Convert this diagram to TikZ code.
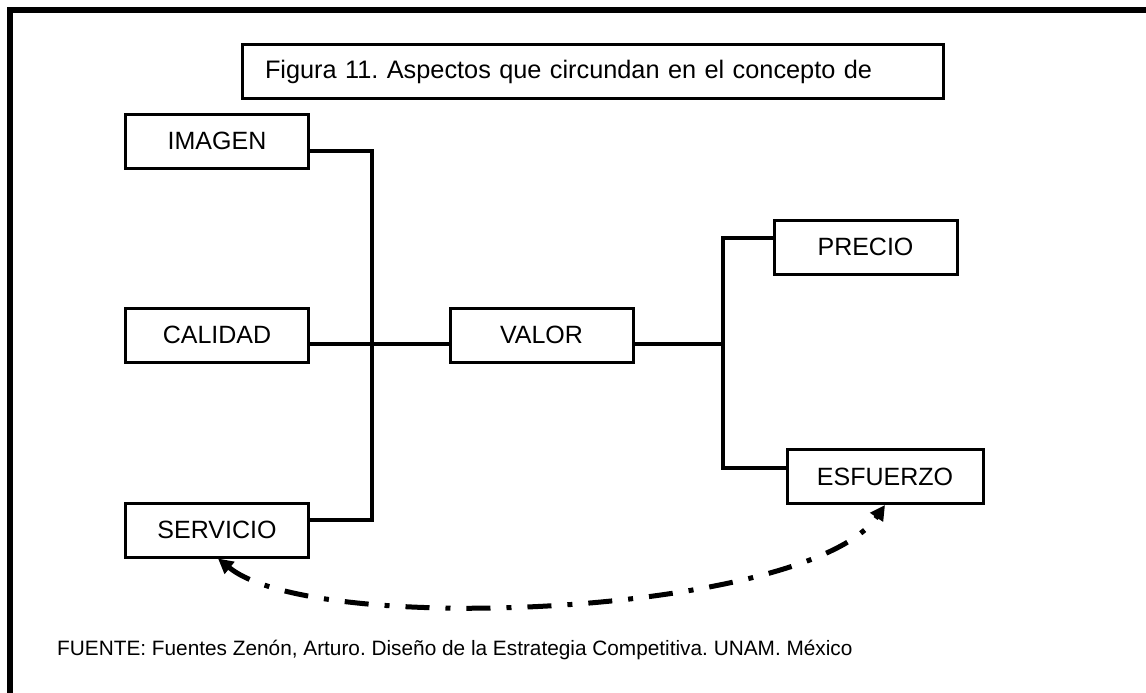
\documentclass[tikz,border=0pt]{standalone}
\usepackage{fontspec}
\setmainfont{Liberation Sans}
\usetikzlibrary{arrows.meta}
\tikzset{
  caja/.style = {draw = black, line width = 3pt, minimum width = 183pt, minimum height = 54pt, inner sep = 0pt, font = \fontsize{25}{30}\selectfont},
  enlace/.style = {line width = 4.5pt},
  flecha/.style = {line width = 5pt, dash pattern = on 24pt off 16pt on 5pt off 16pt, {Triangle[length=15pt,width=15pt]}-{Triangle[length=15pt,width=15pt]}}
}
\frenchspacing
\begin{document}
\begin{tikzpicture}[x = 1pt, y = -1pt]
\useasboundingbox (0,0) rectangle (1146,693);
\draw [line width = 6pt] (10,693) -- (10,10) -- (1146,10);
\node [caja, text width = 655pt, align = left, inner xsep = 23pt, minimum height = 53pt, font = \fontsize{25.3}{30}\selectfont] (titulo) at (592.5,71.5) {Figura 11. Aspectos que circundan en el concepto de};
\foreach \nombre/\texto/\y in {imagen/IMAGEN/141, calidad/CALIDAD/335, servicio/SERVICIO/530}
  \node [caja] (\nombre) at (217,\y) {\texto};
\node [caja] (valor) at (541.5,335) {VALOR};
\node [caja] (precio) at (865.5,247) {PRECIO};
\node [caja, minimum width = 196pt] (esfuerzo) at (885,476.5) {ESFUERZO};
\coordinate (nudoizq) at (372,344);
\coordinate (nudoder) at (723,344);
\draw [enlace] ([yshift=-10pt]imagen.east) -| (nudoizq) |- ([yshift=10pt]servicio.east);
\draw [enlace] ([yshift=-9pt]calidad.east) -- ([yshift=-9pt]valor.west);
\draw [enlace] ([yshift=-9pt]valor.east) -- (nudoder);
\draw [enlace] ([yshift=9pt]precio.west) -| (nudoder) |- ([yshift=8.5pt]esfuerzo.west);
\draw [flecha] ([xshift=1pt]servicio.south) .. controls (316,638) and (809.5,614.6) .. (esfuerzo.south);
\node [anchor = base west, inner sep = 0pt, font = \fontsize{20.8}{25}\selectfont] (fuente) at (57,655) {FUENTE: Fuentes Zenón, Arturo. Diseño de la Estrategia Competitiva. UNAM. México};
\end{tikzpicture}
\end{document}
